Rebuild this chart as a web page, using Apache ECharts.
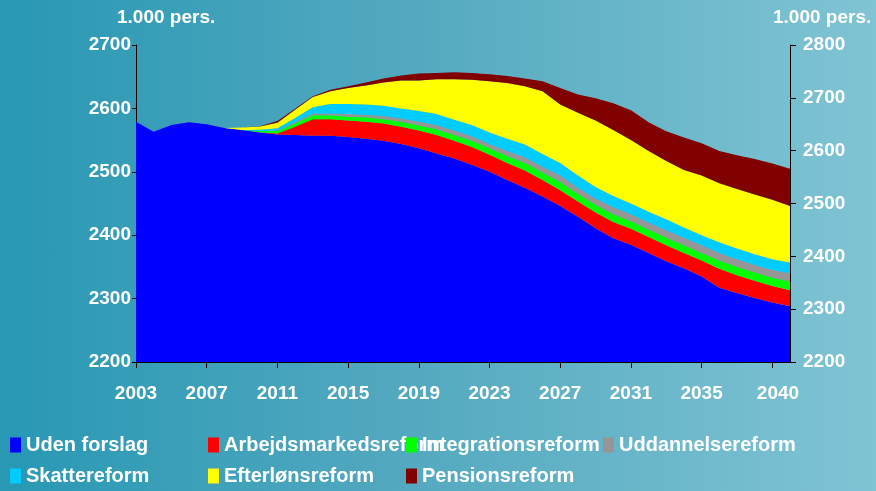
<!DOCTYPE html>
<html>
<head>
<meta charset="utf-8">
<script src="https://cdn.jsdelivr.net/npm/echarts@6/dist/echarts.min.js"></script>
<style>
  html, body { margin: 0; padding: 0; }
  #main {
    width: 876px; height: 491px;
    background: linear-gradient(to right, #2898b4 0%, #52a8bf 45%, #80c4d4 100%);
  }
</style>
</head>
<body>
<div id="main"></div>
<script>
var years = ['2003','2004','2005','2006','2007','2008','2009','2010','2011','2012',
  '2013','2014','2015','2016','2017','2018','2019','2020','2021','2022',
  '2023','2024','2025','2026','2027','2028','2029','2030','2031','2032',
  '2033','2034','2035','2036','2037','2038','2039','2040'];

// 1.000 pers., stakket
var udenForslag = [2579,2563,2574,2578,2575,2569,2566,2562,2559,2558,2557,2557,2555,2552,2549,2544,2537,2529,2521,2511,
  2500,2487,2475,2461,2446,2429,2411,2395,2385,2372,2359,2348,2335,2317,2309,2301,2294,2288];
var arbejdsmarked = [0,0,0,0,0,0,0,0.5,1.5,13,26,26,26,27,27,27,28,29,28,28,
  27,27,27,26,25,24,25,26,25,25,25,24,25,30,28,27,26,25];
var integration = [0,0,0,0,0,0,0,2,4,5,6,6,6,7,7,8,8,9,9,10,
  10,11,12,12,13,12,12,12,12,12,12,12,12,13,13,13,13,14];
var uddannelse = [0,0,0,0,0,0,0,0,0.5,2,3,3,4,4,5,5,6,7,7,7,
  7,8,9,9,10,10,10,11,11,11,12,12,12,12,12,12,12,13];
var skat = [0,0,0,0,0,0,0,2,3.5,7,10,15,16,16,16,16,17,17,17,18,
  18,19,20,20,20,19,18,18,17,17,17,16,16,17,17,17,17,17];
var efterloen = [0,0,0,0,0,0,4,5,9,13,16,20,25,30,37,44,48,55,64,71,
  81,88,92,99,92,99,105,104,100,96,92,91,94,93,94,94,94,89];
var pension = [0,0,0,0,0,0,0,0.5,2.5,1.5,1,2.5,3,5,6,8,11,10,11,11,
  11,11,12,16,26,29,35,42,47,45,47,51,51,51,53,56,57,59];

var names = ['Uden forslag','Arbejdsmarkedsreform','Integrationsreform','Uddannelsereform',
  'Skattereform','Efterlønsreform','Pensionsreform'];
var colors = ['#0000ff','#ff0000','#00ff00','#969696','#00ccff','#ffff00','#800000'];
var values = [udenForslag, arbejdsmarked, integration, uddannelse, skat, efterloen, pension];

var font = 'Arial, "Liberation Sans", sans-serif';
var txt = { color: '#ffffff', fontWeight: 'bold', fontSize: 19, fontFamily: font };

var myChart = echarts.init(document.getElementById('main'), null, {renderer: 'canvas'});

var series = [];
for (var i = 0; i < names.length; i++) {
  series.push({
    name: names[i],
    type: 'line',
    stack: 'total',
    data: values[i],
    symbol: 'none',
    lineStyle: { width: 0 },
    areaStyle: { color: colors[i], opacity: 1 },
    itemStyle: { color: colors[i] },
    emphasis: { disabled: true },
    silent: true
  });
}

// legend placeret som i originalen (to rækker)
var legendPos = [[10,435],[208,435],[406,435],[603,435],[10,466],[208,466],[406,466]];
var legends = [];
for (var j = 0; j < names.length; j++) {
  legends.push({
    data: [names[j]],
    left: legendPos[j][0],
    top: legendPos[j][1],
    padding: 0,
    itemWidth: 11,
    itemHeight: 15,
    icon: 'rect',
    selectedMode: false,
    textStyle: Object.assign({}, txt, { fontSize: 20 })
  });
}

var axisLine = { show: true, lineStyle: { color: '#000000', width: 1 } };
var plain = function (v) { return String(v); };

var option = {
  backgroundColor: 'transparent',
  animation: false,
  color: colors,
  legend: legends,
  grid: { left: 136, right: 86, top: 45, bottom: 129 },
  graphic: [
    { type: 'text', left: 117, top: 8, style: { text: '1.000 pers.', fill: '#fff', font: 'bold 19px ' + font } },
    { type: 'text', left: 773, top: 8, style: { text: '1.000 pers.', fill: '#fff', font: 'bold 19px ' + font } }
  ],
  xAxis: {
    type: 'category',
    boundaryGap: false,
    data: years,
    axisLine: axisLine,
    axisTick: {
      show: true, length: 6, lineStyle: { color: '#000' },
      interval: function (idx) { return idx % 4 === 0; }
    },
    axisLabel: Object.assign({}, txt, {
      margin: 22,
      interval: function (idx) { return (idx % 4 === 0 && idx < 36) || idx === 37; },
      formatter: function (v, idx) { return idx === 37 ? '{last|' + v + '}' : v; },
      rich: { last: Object.assign({}, txt, { padding: [0, 24, 0, 0] }) }
    }),
    splitLine: { show: false }
  },
  yAxis: [
    {
      type: 'value', position: 'left', min: 2200, max: 2700, interval: 100,
      axisLine: axisLine,
      axisTick: { show: true, length: 4, lineStyle: { color: '#000' } },
      axisLabel: Object.assign({}, txt, { margin: 5, formatter: plain }),
      splitLine: { show: false }
    },
    {
      type: 'value', position: 'right', min: 2200, max: 2800, interval: 100,
      axisLine: axisLine,
      axisTick: { show: true, length: 6, lineStyle: { color: '#000' } },
      axisLabel: Object.assign({}, txt, { margin: 13, formatter: plain }),
      splitLine: { show: false }
    }
  ],
  series: series
};

myChart.setOption(option);
</script>
</body>
</html>
